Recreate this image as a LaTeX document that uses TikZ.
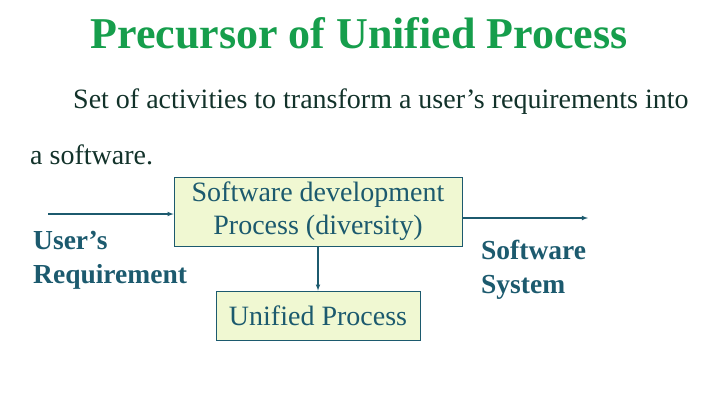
\documentclass[tikz,border=0pt]{standalone}
\usepackage{fontspec}
\setmainfont{Liberation Serif}
\usepackage{xcolor}
\usepackage{tikz}
\usetikzlibrary{arrows}
\definecolor{titlegreen}{RGB}{22,158,76}
\definecolor{bodytext}{RGB}{18,50,42}
\definecolor{teal}{RGB}{28,90,110}
\definecolor{boxfill}{RGB}{240,248,210}

\begin{document}
\begin{tikzpicture}[x=1pt,y=-1pt,>=latex]
\tikzstyle{every node}+=[inner sep=0pt]
\tikzstyle{procbox}=[draw=teal,fill=boxfill,line width=0.8pt,text=teal,align=center,font=\fontsize{28}{33}\selectfont]
\tikzstyle{iolabel}=[text=teal,align=left,font=\fontsize{27.5}{34}\selectfont\bfseries]
\tikzstyle{flow}=[->,draw=teal,line width=1.1pt]
\useasboundingbox (0,0) rectangle (720,405);
\node (title) at (359,33) [text=titlegreen,font=\fontsize{44}{48}\selectfont\bfseries] {Precursor of Unified Process};
\node (line1) at (73,102) [anchor=west,text=bodytext,font=\fontsize{28}{32}\selectfont] {Set of activities to transform a user’s requirements into};
\node (line2) at (30,155) [anchor=west,text=bodytext,font=\fontsize{28}{32}\selectfont] {a software.};
\node (dev) at (318,211.5) [procbox,minimum width=288pt,minimum height=69pt] {Software development\\Process (diversity)};
\node (up) at (318,315.5) [procbox,minimum width=204pt,minimum height=49pt] {Unified Process};
\node (req) at (33,260) [iolabel,anchor=west] {User’s\\Requirement};
\node (sys) at (481,270) [iolabel,anchor=west] {Software\\System};
\coordinate (in) at (48,214);
\coordinate (out) at (588,218);
\draw [flow] (in) -- (in -| dev.west);
\draw [flow] (dev.south) -- (up.north);
\draw [flow] (out -| dev.east) -- (out);
\end{tikzpicture}
\end{document}
